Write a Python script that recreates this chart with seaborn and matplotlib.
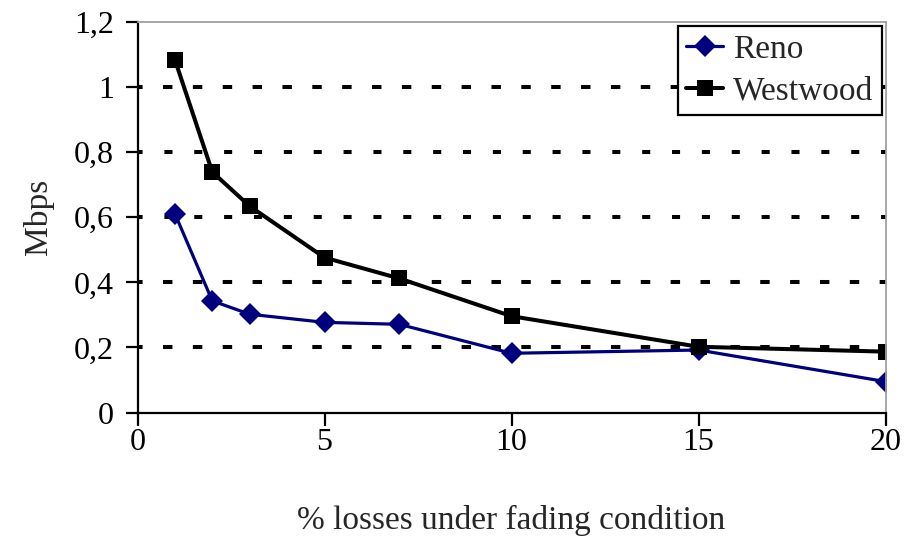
import matplotlib
matplotlib.use("Agg")
import matplotlib.pyplot as plt
import seaborn as sns
import pandas as pd
from matplotlib.ticker import FuncFormatter

losses = [1, 2, 3, 5, 7, 10, 15, 20]
reno = [0.611, 0.343, 0.302, 0.277, 0.271, 0.182, 0.192, 0.095]
westwood = [1.084, 0.739, 0.634, 0.476, 0.412, 0.296, 0.202, 0.187]
series_names = ["Reno", "Westwood"]
x_ticks = [0, 5, 10, 15, 20]
y_ticks = [0, 0.2, 0.4, 0.6, 0.8, 1.0, 1.2]
thin_grid = [0.2, 0.4, 1.0]
bold_grid = [0.6, 0.8]

df = pd.concat([
    pd.DataFrame({"x": losses, "y": reno, "series": series_names[0]}),
    pd.DataFrame({"x": losses, "y": westwood, "series": series_names[1]}),
])

sns.set_style("white")
plt.rcParams["font.family"] = ["Liberation Serif", "DejaVu Serif"]
plt.rcParams["lines.scale_dashes"] = False

fig = plt.figure(figsize=(9.23, 5.38), dpi=100)
ax = fig.add_axes([137.5 / 923, (538 - 412.5) / 538, (885.5 - 137.5) / 923, (412.5 - 22) / 538])

for yv in thin_grid:
    ax.axhline(yv, color="black", linestyle=(3.5, (6.8, 14.7)), linewidth=1.5, zorder=0)
for yv in bold_grid:
    ax.axhline(yv, color="black", linestyle=(2.5, (5.8, 15.7)), linewidth=3.4, zorder=0)

sns.lineplot(data=df, x="x", y="y", hue="series", style="series",
             palette={"Reno": "#00007f", "Westwood": "#000000"},
             markers={"Reno": "D", "Westwood": "s"},
             dashes={"Reno": "", "Westwood": ""},
             markersize=11.5, linewidth=2.3, markeredgewidth=0, ax=ax)
for line in ax.get_lines():
    if line.get_color() in ("#000000", "black"):
        line.set_linewidth(2.9)
        line.set_markersize(11.5)

ax.set_xlim(0, 20)
ax.set_ylim(0, 1.2)
ax.set_xticks(x_ticks)
ax.set_yticks(y_ticks)
ax.yaxis.set_major_formatter(FuncFormatter(lambda v, p: ("%g" % round(v, 1)).replace(".", ",")))
ax.tick_params(axis="both", direction="out", length=9, width=1.6, labelsize=23, colors="black")
ax.tick_params(axis="x", bottom=True, pad=2)
ax.tick_params(axis="y", left=True, pad=8)
for s in ["left", "bottom"]:
    ax.spines[s].set_color("black")
    ax.spines[s].set_linewidth(1.6)
for s in ["top", "right"]:
    ax.spines[s].set_color("#a0a0a0")
    ax.spines[s].set_linewidth(1.3)

ax.set_xlabel("% losses under fading condition", fontsize=24, labelpad=35)
ax.set_ylabel("Mbps", fontsize=24, labelpad=14)

leg = ax.legend(title=None, loc="upper right", fontsize=24, frameon=True, fancybox=False,
                edgecolor="black", framealpha=1, borderaxespad=0.12, handlelength=1.1,
                handletextpad=0.3, labelspacing=0.35, borderpad=0.25)
leg.get_frame().set_linewidth(1.6)

fig.savefig("out.png", dpi=100)
